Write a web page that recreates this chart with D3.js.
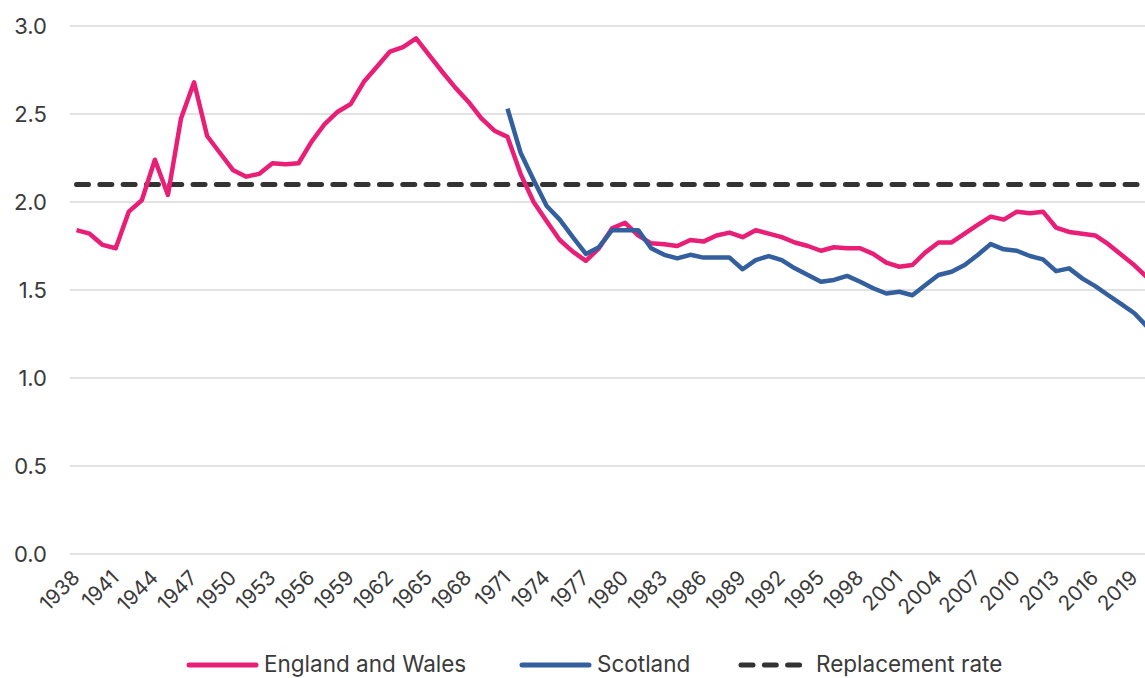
<!DOCTYPE html>
<html>
<head>
<meta charset="utf-8">
<script src="https://cdn.jsdelivr.net/npm/d3@7"></script>
<style>
  html, body { margin: 0; padding: 0; background: #ffffff; }
  svg { display: block; font-family: Inter, "Noto Sans", sans-serif; }
</style>
</head>
<body>
<svg id="chart" width="1145" height="678"></svg>
<script>
// Total fertility rate, 1938–2020
const years = d3.range(1938, 2021);

const englandWales = [
  1.84, 1.82, 1.756, 1.737, 1.945, 2.01, 2.24, 2.04, 2.475, 2.68,
  2.375, 2.277, 2.18, 2.144, 2.16, 2.22, 2.214, 2.22, 2.343, 2.443,
  2.513, 2.557, 2.683, 2.769, 2.855, 2.88, 2.93, 2.835, 2.74, 2.65,
  2.57, 2.475, 2.405, 2.37, 2.16, 2.0, 1.89, 1.784, 1.718, 1.666,
  1.737, 1.85, 1.882, 1.81, 1.765, 1.76, 1.75, 1.784, 1.775, 1.81,
  1.826, 1.80, 1.84, 1.82, 1.80, 1.77, 1.75, 1.723, 1.743, 1.737,
  1.737, 1.705, 1.655, 1.632, 1.642, 1.714, 1.77, 1.77, 1.82, 1.87,
  1.917, 1.90, 1.945, 1.936, 1.945, 1.855, 1.83, 1.82, 1.81, 1.76,
  1.70, 1.64, 1.57
];

// Scotland series starts in 1971
const scotlandYears = d3.range(1971, 2021);
const scotland = [
  2.53, 2.28, 2.125, 1.977, 1.90, 1.80, 1.705, 1.743, 1.84, 1.84,
  1.84, 1.737, 1.70, 1.68, 1.70, 1.684, 1.684, 1.684, 1.618, 1.67,
  1.693, 1.67, 1.623, 1.585, 1.547, 1.557, 1.58, 1.547, 1.51, 1.48,
  1.49, 1.47, 1.528, 1.585, 1.604, 1.642, 1.699, 1.761, 1.731, 1.723,
  1.693, 1.674, 1.607, 1.623, 1.566, 1.522, 1.47, 1.42, 1.368, 1.29
];

const replacementRate = 2.1;

const yTicks = [0, 0.5, 1.0, 1.5, 2.0, 2.5, 3.0];
const xTickYears = d3.range(1938, 2020, 3);

const seriesNames = ["England and Wales", "Scotland", "Replacement rate"];
const colors = { ew: "#E91E76", sc: "#345F9F", rep: "#333333" };

const svg = d3.select("#chart");
const W = 1145;
const plotLeft = 70, plotRight = 1154, plotTop = 26, plotBottom = 554;

const x = d3.scalePoint().domain(years).range([plotLeft, plotRight]).padding(0.5);
const y = d3.scaleLinear().domain([0, 3]).range([plotBottom, plotTop]);

// horizontal gridlines
svg.append("g")
  .selectAll("line")
  .data(yTicks)
  .join("line")
  .attr("x1", plotLeft).attr("x2", W + 20)
  .attr("y1", d => y(d)).attr("y2", d => y(d))
  .attr("stroke", "#d9d9d9").attr("stroke-width", 1.5);

// y axis labels
const yAxis = svg.append("g")
  .attr("transform", `translate(${plotLeft},0)`)
  .call(d3.axisLeft(y).tickValues(yTicks).tickFormat(d3.format(".1f")).tickSize(0).tickPadding(23));
yAxis.select(".domain").remove();
yAxis.selectAll("text")
  .attr("font-size", 22).attr("fill", "#3a3a3a").attr("font-family", "Inter, sans-serif");

// x axis labels, rotated
const xAxis = svg.append("g")
  .attr("transform", `translate(0,${plotBottom})`)
  .call(d3.axisBottom(x).tickValues(xTickYears).tickSize(0));
xAxis.select(".domain").remove();
xAxis.selectAll("text")
  .attr("y", 0).attr("dy", 0).attr("x", 0)
  .attr("text-anchor", "end")
  .attr("transform", "translate(4,25) rotate(-45)")
  .attr("font-size", 20.5).attr("fill", "#3a3a3a").attr("font-family", "Inter, sans-serif");

// replacement rate
svg.append("line")
  .attr("x1", x(1938)).attr("x2", x(2020))
  .attr("y1", y(replacementRate)).attr("y2", y(replacementRate))
  .attr("stroke", colors.rep).attr("stroke-width", 5)
  .attr("stroke-linecap", "round")
  .attr("stroke-dasharray", "12 11.3");

const line = d3.line().x(d => x(d[0])).y(d => y(d[1]));

svg.append("path")
  .datum(years.map((yr, i) => [yr, englandWales[i]]))
  .attr("d", line)
  .attr("fill", "none").attr("stroke", colors.ew)
  .attr("stroke-width", 4.5).attr("stroke-linejoin", "round");

svg.append("path")
  .datum(scotlandYears.map((yr, i) => [yr, scotland[i]]))
  .attr("d", line)
  .attr("fill", "none").attr("stroke", colors.sc)
  .attr("stroke-width", 4.5).attr("stroke-linejoin", "round");

// legend
const legendItems = [
  { name: seriesNames[0], color: colors.ew, x0: 187, dash: null },
  { name: seriesNames[1], color: colors.sc, x0: 520, dash: null },
  { name: seriesNames[2], color: colors.rep, x0: 739, dash: "12 11.3" }
];
const legendY = 665;
const legend = svg.append("g");
legendItems.forEach(item => {
  const g = legend.append("g");
  g.append("line")
    .attr("x1", item.x0 + 2).attr("x2", item.x0 + 69)
    .attr("y1", legendY).attr("y2", legendY)
    .attr("stroke", item.color).attr("stroke-width", 5)
    .attr("stroke-linecap", "round")
    .attr("stroke-dasharray", item.dash);
  g.append("text")
    .attr("x", item.x0 + 77).attr("y", legendY + 7)
    .attr("font-size", 22.5).attr("fill", "#3a3a3a")
    .attr("font-family", "Inter, sans-serif")
    .text(item.name);
});
</script>
</body>
</html>
